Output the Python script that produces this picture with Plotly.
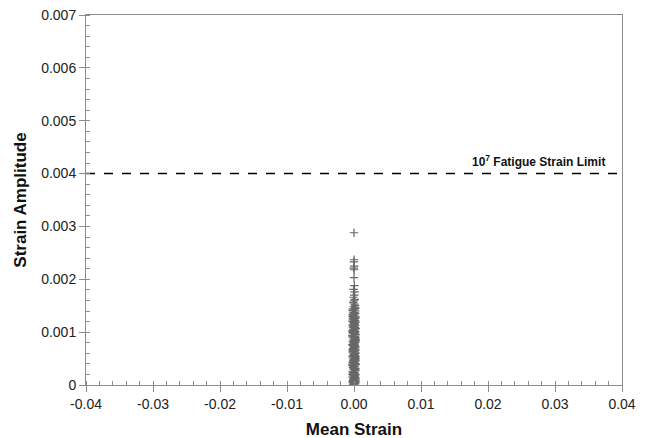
import plotly.graph_objects as go

# Scatter data (mean strain, strain amplitude)
mean_strain = [
    0.00000, 0.00002, -0.00002, 0.00004, -0.00004, 0.00002, 0.00000, 0.00006,
    -0.00006, 0.00010, 0.00004, -0.00008, 0.00012, 0.00000, -0.00012, 0.00008,
    0.00016, -0.00004, 0.00014, -0.00016, 0.00006, 0.00020, -0.00010, 0.00002,
    0.00018, -0.00018, 0.00010, -0.00014, 0.00022, -0.00006, 0.00012, -0.00020,
    0.00004, 0.00016, -0.00012, 0.00024, -0.00002, 0.00008, -0.00022, 0.00018,
    0.00000, -0.00016, 0.00014, 0.00022, -0.00008, 0.00006, -0.00024, 0.00020,
    0.00002, -0.00014, 0.00010, 0.00024, -0.00020, 0.00012, -0.00004, 0.00018,
    -0.00010, 0.00004, 0.00016, -0.00018, 0.00022, -0.00002, 0.00008, -0.00024,
    0.00014, -0.00012, 0.00020, 0.00000, -0.00016, 0.00010, 0.00024, -0.00006,
    0.00006, -0.00020, 0.00018, -0.00008, 0.00012, 0.00002, -0.00022, 0.00016,
    -0.00014, 0.00022, 0.00004, -0.00010, 0.00020, -0.00018, 0.00008, -0.00002,
    0.00024, -0.00024, 0.00014, 0.00000, -0.00012, 0.00018, -0.00006, 0.00010,
    0.00022, -0.00020, 0.00006, -0.00016, 0.00016, 0.00002, -0.00008, 0.00012,
    -0.00022, 0.00020, -0.00004, 0.00024, -0.00014, 0.00008, 0.00014, -0.00018,
    0.00000, 0.00018, -0.00010, 0.00022, -0.00024, 0.00004, 0.00010, -0.00006,
    0.00016, -0.00020, 0.00024, -0.00002, 0.00006, -0.00016, 0.00020, -0.00012,
    0.00012, 0.00002, -0.00022, 0.00018, -0.00008, 0.00022, 0.00008, -0.00018,
    0.00014, -0.00004, 0.00000, -0.00014, 0.00024, 0.00010, -0.00024, 0.00016,
    -0.00010, 0.00004, 0.00020, -0.00020, 0.00006, 0.00012, -0.00006, 0.00022,
    -0.00016, 0.00018, -0.00002, 0.00008, -0.00012, 0.00024, 0.00002, -0.00022,
    0.00014, -0.00008, 0.00010, 0.00020, -0.00018, 0.00000, 0.00016, -0.00014,
    0.00006, -0.00024, 0.00022, -0.00004, 0.00012, -0.00020, 0.00018, 0.00004,
    -0.00010, 0.00024, -0.00016, 0.00008, 0.00002, -0.00006, 0.00014, -0.00022,
    0.00020, -0.00012, 0.00010, 0.00000, -0.00018, 0.00016, -0.00002, 0.00022,
]
strain_amplitude = [
    0.00288, 0.00237, 0.00233, 0.00225, 0.00221, 0.00218, 0.00203, 0.00188,
    0.00181, 0.00176, 0.00170, 0.00166, 0.00162, 0.00159, 0.00156, 0.00153,
    0.00150, 0.00148, 0.00146, 0.00144, 0.00142, 0.00140, 0.00138, 0.00137,
    0.00135, 0.00134, 0.00132, 0.00131, 0.00129, 0.00128, 0.00126, 0.00125,
    0.00123, 0.00122, 0.00120, 0.00119, 0.00117, 0.00116, 0.00114, 0.00113,
    0.00111, 0.00110, 0.00108, 0.00107, 0.00105, 0.00104, 0.00102, 0.00101,
    0.00099, 0.00098, 0.00096, 0.00095, 0.00093, 0.00092, 0.00090, 0.00089,
    0.00087, 0.00086, 0.00084, 0.00083, 0.00081, 0.00080, 0.00078, 0.00077,
    0.00075, 0.00074, 0.00072, 0.00071, 0.00069, 0.00068, 0.00066, 0.00065,
    0.00063, 0.00062, 0.00060, 0.00059, 0.00057, 0.00056, 0.00054, 0.00053,
    0.00051, 0.00050, 0.00048, 0.00047, 0.00045, 0.00044, 0.00042, 0.00041,
    0.00039, 0.00038, 0.00036, 0.00035, 0.00033, 0.00032, 0.00030, 0.00029,
    0.00027, 0.00026, 0.00024, 0.00023, 0.00021, 0.00020, 0.00018, 0.00017,
    0.00015, 0.00014, 0.00012, 0.00011, 0.00009, 0.00008, 0.00006, 0.00005,
    0.00003, 0.00002, 0.00001, 0.00127, 0.00121, 0.00115, 0.00109, 0.00103,
    0.00097, 0.00091, 0.00085, 0.00079, 0.00073, 0.00067, 0.00061, 0.00055,
    0.00049, 0.00043, 0.00037, 0.00031, 0.00025, 0.00019, 0.00013, 0.00007,
    0.00004, 0.00124, 0.00118, 0.00112, 0.00106, 0.00100, 0.00094, 0.00088,
    0.00082, 0.00076, 0.00070, 0.00064, 0.00058, 0.00052, 0.00046, 0.00040,
    0.00034, 0.00028, 0.00022, 0.00016, 0.00010, 0.00006, 0.00003, 0.00130,
    0.00119, 0.00108, 0.00097, 0.00086, 0.00075, 0.00064, 0.00053, 0.00042,
    0.00031, 0.00020, 0.00009, 0.00002, 0.00114, 0.00102, 0.00090, 0.00078,
    0.00066, 0.00054, 0.00042, 0.00030, 0.00018, 0.00008, 0.00136, 0.00141,
    0.00145, 0.00133, 0.00126, 0.00111, 0.00099, 0.00083, 0.00068, 0.00047,
]

limit_x = [-0.04, 0.04]
limit_y = [0.004, 0.004]
limit_label = "10<sup>7</sup> Fatigue Strain Limit"

x_ticks = [-0.04, -0.03, -0.02, -0.01, 0.00, 0.01, 0.02, 0.03, 0.04]
x_tick_text = ["-0.04", "-0.03", "-0.02", "-0.01", "0.00", "0.01", "0.02", "0.03", "0.04"]
y_ticks = [0, 0.001, 0.002, 0.003, 0.004, 0.005, 0.006, 0.007]
y_tick_text = ["0", "0.001", "0.002", "0.003", "0.004", "0.005", "0.006", "0.007"]

FONT = "Liberation Sans, Arial, sans-serif"

fig = go.Figure()
fig.add_trace(go.Scatter(
    x=mean_strain, y=strain_amplitude, mode="markers",
    marker=dict(symbol="cross-thin", size=6, line=dict(color="#686868", width=1.2), color="#686868"),
    showlegend=False, hoverinfo="skip"))
fig.add_trace(go.Scatter(
    x=limit_x, y=limit_y, mode="lines",
    line=dict(color="black", width=1.5, dash="dash"),
    showlegend=False, hoverinfo="skip"))

fig.add_annotation(x=0.0378, y=0.004, xref="x", yref="y", text=limit_label,
                   showarrow=False, yshift=13, xanchor="right",
                   font=dict(family=FONT, size=12, color="#111111", weight="bold"))

axis_common = dict(showgrid=False, zeroline=False, showline=True, linecolor="#8c8c8c",
                   linewidth=1, mirror=True, ticks="outside", ticklen=6, tickcolor="#8c8c8c",
                   ticklabeloverflow="allow", automargin=False,
                   tickfont=dict(family=FONT, size=14, color="#222222"))

fig.update_xaxes(range=[-0.04, 0.04], tickmode="array", tickvals=x_ticks, ticktext=x_tick_text,
                 ticklabelstandoff=0,
                 minor=dict(ticks="inside", ticklen=4, dtick=0.002, tickcolor="#8c8c8c"),
                 title=dict(text="Mean Strain", standoff=12,
                            font=dict(family=FONT, size=17, color="#111111", weight="bold")),
                 **axis_common)
fig.update_yaxes(range=[0, 0.007], tickmode="array", tickvals=y_ticks, ticktext=y_tick_text,
                 ticklabelstandoff=0,
                 minor=dict(ticks="inside", ticklen=4, dtick=0.0002, tickcolor="#8c8c8c"),
                 title=dict(text="Strain Amplitude", standoff=10,
                            font=dict(family=FONT, size=17, color="#111111", weight="bold")),
                 **axis_common)

fig.update_layout(width=647, height=438, margin=dict(l=78, r=33, t=7, b=61),
                  paper_bgcolor="white", plot_bgcolor="white")

fig.write_html("out.html")
